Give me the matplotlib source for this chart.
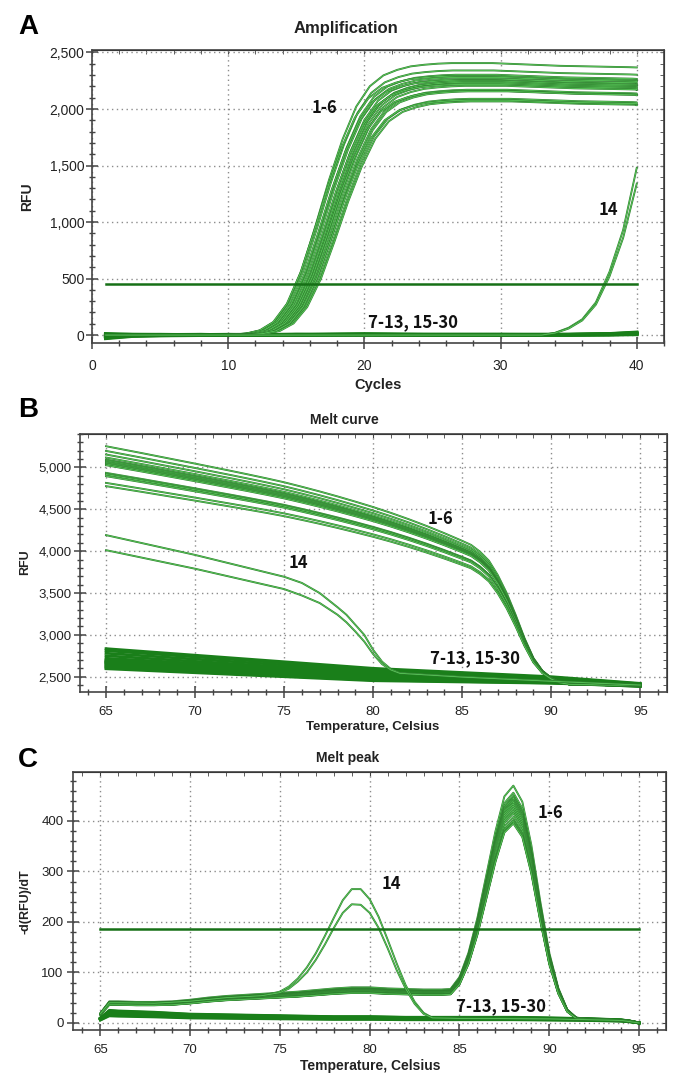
import numpy as np
import matplotlib.pyplot as plt
from matplotlib.ticker import MultipleLocator, FuncFormatter

# ---------------- panel A: amplification ----------------
cycles = list(range(0, 42))          # 0 and 41 are padding for the shift
# normalised shape of a 1-6 curve (fraction of plateau) per cycle 0..41
amp_shape = [0, 0, 0, 0, 0, 0, 0, 0, 0, 0, 0,
             0.002, 0.006, 0.018, 0.05, 0.12, 0.24, 0.40, 0.57, 0.72, 0.84,
             0.915, 0.955, 0.975, 0.988, 0.994, 0.998, 1.0, 1.0, 1.0, 1.0,
             0.998, 0.996, 0.994, 0.992, 0.99, 0.989, 0.988, 0.987, 0.986, 0.985,
             0.984]
amp_plateau = [2406, 2341, 2303, 2290, 2280, 2265, 2253, 2245, 2235,
               2225, 2217, 2205, 2170, 2160, 2156, 2090, 2067, 2078]
amp_shift = [-0.6, -0.5, -0.3, -0.7, -0.2, 0.0, -0.4, 0.2, 0.1,
             0.3, -0.1, 0.4, 0.5, 0.2, 0.6, 0.7, 0.8, 0.5]

cyc40 = list(range(1, 41))
s14_amp = [[0] * 33 + [20, 65, 140, 290, 560, 930, 1480],
           [0] * 33 + [18, 58, 130, 270, 520, 860, 1340]]

neg_amp_cycles = [1, 2, 3, 5, 8, 10, 12, 15, 20, 25, 30, 35, 38, 40]
neg_amp = [[-25, -15, -8, -3, 0, 2, 5, 4, 8, 3, 2, 4, 8, 18],
           [-15, -10, -5, 0, 2, 0, 3, 6, 3, 5, 4, 2, 6, 12],
           [5, 3, 2, 4, 3, 5, 2, 3, 5, 2, 3, 5, 10, 22],
           [12, 8, 6, 5, 2, 3, 6, 2, 10, 6, 5, 3, 5, 8],
           [-30, -20, -10, -5, -2, -1, 2, 0, 2, 0, 1, 0, 2, 5],
           [0, -2, 0, 2, 4, 2, 1, 5, 4, 4, 6, 6, 12, 25],
           [-8, -5, -2, 1, 0, 4, 4, 2, 6, 2, 2, 3, 4, 10],
           [8, 6, 4, 3, 5, 1, 0, 4, 2, 3, 3, 4, 9, 15]]
amp_threshold = 453

# ---------------- panel B: melt curve ----------------
melt_temp = [65, 66, 67, 68, 69, 70, 71, 72, 73, 74, 75, 76, 77, 78, 79, 80,
             81, 82, 83, 84, 85, 85.5, 86, 86.5, 87, 87.5, 88, 88.5, 89, 89.5,
             90, 90.5, 91, 92, 93, 94, 95]
melt_ref = [5050, 5012, 4974, 4935, 4896, 4857, 4817, 4777, 4736, 4694, 4650,
            4600, 4548, 4493, 4435, 4375, 4310, 4240, 4165, 4085, 4000, 3955,
            3880, 3780, 3620, 3420, 3180, 2920, 2700, 2560, 2480, 2430, 2410,
            2405, 2400, 2398, 2395]
melt_base = 2400
melt_start = [5254, 5198, 5155, 5119, 5095, 5087, 5078, 5067, 5058,
              5048, 5040, 5027, 4936, 4925, 4916, 4896, 4816, 4777]

s14_melt_temp = [65, 70, 75, 76, 77, 78, 78.5, 79, 79.5, 80, 80.5, 81, 81.5,
                 85, 90, 95]
s14_melt = [[4192, 3955, 3694, 3620, 3499, 3330, 3240, 3120, 3000, 2820, 2680,
             2590, 2545, 2500, 2450, 2400],
            [4012, 3790, 3547, 3470, 3380, 3240, 3150, 3040, 2920, 2770, 2650,
             2580, 2540, 2495, 2445, 2400]]

neg_melt_temp = [65, 80, 90, 95]
neg_melt = [[2835, 2600, 2500, 2420], [2810, 2590, 2490, 2415],
            [2780, 2570, 2480, 2410], [2750, 2550, 2470, 2405],
            [2720, 2540, 2465, 2400], [2700, 2530, 2460, 2400],
            [2690, 2520, 2455, 2398], [2680, 2510, 2450, 2395],
            [2665, 2500, 2445, 2395], [2655, 2495, 2440, 2392],
            [2640, 2485, 2435, 2390], [2630, 2480, 2432, 2390],
            [2620, 2470, 2428, 2388], [2605, 2460, 2425, 2385],
            [2595, 2452, 2422, 2385], [2670, 2505, 2448, 2396]]

# ---------------- panel C: melt peak ----------------
peak_temp = [65, 65.5, 66, 67, 68, 69, 70, 71, 72, 73, 74, 75, 76, 77, 78, 79,
             80, 81, 82, 83, 84, 84.5, 85, 85.5, 86, 86.5, 87, 87.5, 88, 88.5,
             89, 89.5, 90, 90.5, 91, 91.5, 92, 93, 94, 94.5, 95]
peak_ref = [18, 40, 40, 39, 39, 40, 43, 47, 50, 52, 54, 56, 58, 61, 64, 66,
            66, 64, 63, 62, 62, 63, 85, 130, 195, 275, 355, 420, 440, 410,
            330, 225, 130, 65, 25, 10, 8, 7, 5, 4, 0]
peak_height = [470, 456, 450, 447, 445, 442, 440, 437, 434,
               430, 425, 420, 415, 408, 402, 400, 397, 395]

s14_peak_temp = [65, 65.5, 66, 68, 70, 72, 74, 75, 75.5, 76, 76.5, 77, 77.5,
                 78, 78.5, 79, 79.5, 80, 80.5, 81, 81.5, 82, 82.5, 83, 83.5,
                 85, 90, 94, 95]
s14_peak = [[18, 40, 40, 39, 43, 50, 54, 62, 72, 88, 110, 138, 172, 208, 243,
             265, 265, 245, 210, 165, 118, 75, 42, 20, 10, 9, 8, 5, 0],
            [18, 40, 40, 39, 43, 50, 54, 60, 68, 82, 100, 125, 155, 188, 218,
             235, 234, 218, 188, 148, 105, 68, 38, 18, 10, 9, 8, 5, 0]]

neg_peak_temp = [65, 65.5, 66, 68, 70, 72, 74, 76, 78, 80, 82, 84, 86, 88, 90,
                 92, 94, 94.5, 95]
neg_peak_ref = [8, 20, 19, 17, 14, 13, 12, 11, 10, 10, 9, 9, 9, 9, 8, 7, 5, 3, 0]
neg_peak_factor = [0.7, 0.78, 0.85, 0.9, 0.95, 1.0, 1.05, 1.1, 1.15, 1.2, 1.25]
peak_threshold = 187

# ---------------- style ----------------
DARK = '#2c7d2c'
LIGHT = '#5fcf5f'
BAND = '#1a7f1a'
THR = '#167016'
GRID = '#8c8c8c'
TXT = '#222222'
W, H = 684, 1090
TICKFONT = ['Liberation Sans', 'DejaVu Sans']
LABFONT = ['Noto Sans CJK KR', 'DejaVu Sans']
HEAD = ['Liberation Sans', 'DejaVu Sans']

fig = plt.figure(figsize=(W / 100, H / 100), dpi=100)


def axes_px(left, top, right, bottom):
    return fig.add_axes([left / W, 1 - bottom / H, (right - left) / W, (bottom - top) / H])


def ftext(x, y, s, **kw):
    fig.text(x / W, 1 - y / H, s, ha='center', va='center', color=kw.pop('color', TXT), **kw)


def curve(ax, x, y):
    ax.plot(x, y, color=DARK, lw=1.35)
    ax.plot(x, y, color=LIGHT, lw=0.55)


def label(ax, x, y, s):
    ax.text(x, y, s, fontsize=12, fontweight='bold', family=LABFONT,
            ha='center', va='center', color='#111111')


def style(ax, xmaj, xmin, ymaj, ymin, fmt, fs, xpad, ypad):
    ax.xaxis.set_major_locator(MultipleLocator(xmaj))
    ax.xaxis.set_minor_locator(MultipleLocator(xmin))
    ax.yaxis.set_major_locator(MultipleLocator(ymaj))
    ax.yaxis.set_minor_locator(MultipleLocator(ymin))
    ax.yaxis.set_major_formatter(FuncFormatter(fmt))
    ax.grid(True, which='major', linestyle=(0, (1, 2.5)), color=GRID, lw=1)
    ax.set_axisbelow(True)
    for sp in ax.spines.values():
        sp.set_color('#444444')
        sp.set_linewidth(1.2)
    ax.tick_params(which='major', direction='inout', length=9, width=1.1, color='#444444')
    ax.tick_params(which='minor', direction='inout', length=5, width=1.0, color='#444444')
    ax.tick_params(axis='x', which='major', pad=xpad, labelsize=fs, labelcolor=TXT)
    ax.tick_params(axis='y', which='major', pad=ypad, labelsize=fs, labelcolor=TXT)
    for lab in ax.get_xticklabels() + ax.get_yticklabels():
        lab.set_family(TICKFONT)
    top = ax.secondary_xaxis('top')
    top.xaxis.set_major_locator(MultipleLocator(xmaj))
    top.xaxis.set_minor_locator(MultipleLocator(xmin))
    top.tick_params(which='both', direction='in', length=3, labeltop=False, color='#444444')
    right = ax.secondary_yaxis('right')
    right.yaxis.set_major_locator(MultipleLocator(ymaj))
    right.yaxis.set_minor_locator(MultipleLocator(ymin))
    right.tick_params(which='both', direction='in', length=3, labelright=False, color='#444444')


comma = lambda v, p: f'{v:,.0f}'
plain = lambda v, p: f'{v:.0f}'

# ---- A ----
axA = axes_px(92, 50, 664, 343)
x_pad = np.array(cycles, dtype=float)
for row in neg_amp:
    axA.plot(neg_amp_cycles, row, color=BAND, lw=2.4)
for plat, sh in zip(amp_plateau, amp_shift):
    xs = np.clip(x_pad + sh, 1, 40)
    curve(axA, xs, plat * np.array(amp_shape))
for row in s14_amp:
    curve(axA, cyc40, row)
axA.plot([1, 40], [amp_threshold, amp_threshold], color=THR, lw=1.8)
axA.set_xlim(0, 42)
axA.set_ylim(-70, 2522)
style(axA, 10, 2, 500, 100, comma, 10, 7, 1)
label(axA, 17.1, 2010, '1-6')
label(axA, 37.9, 1107, '14')
label(axA, 23.6, 116, '7-13, 15-30')

# ---- B ----
axB = axes_px(80, 434, 667, 692)
ref = np.array(melt_ref, dtype=float)
for row in neg_melt:
    axB.plot(neg_melt_temp, row, color=BAND, lw=2.0)
for st in melt_start:
    s = (st - melt_base) / (melt_ref[0] - melt_base)
    curve(axB, melt_temp, melt_base + (ref - melt_base) * s)
for row in s14_melt:
    curve(axB, s14_melt_temp, row)
axB.set_xlim(63.54, 96.5)
axB.set_ylim(2317, 5400)
style(axB, 5, 1, 500, 100, comma, 9.5, 5.5, 1.5)
label(axB, 83.8, 4383, '1-6')
label(axB, 75.8, 3857, '14')
label(axB, 85.7, 2723, '7-13, 15-30')

# ---- C ----
axC = axes_px(72.5, 772, 666, 1030)
pref = np.array(peak_ref, dtype=float)
nref = np.array(neg_peak_ref, dtype=float)
for f in neg_peak_factor:
    axC.plot(neg_peak_temp, nref * f, color=BAND, lw=2.0)
for h in peak_height:
    curve(axC, peak_temp, pref * h / max(peak_ref))
for row in s14_peak:
    curve(axC, s14_peak_temp, row)
axC.plot([65, 95], [peak_threshold, peak_threshold], color=THR, lw=1.8)
axC.set_xlim(63.45, 96.5)
axC.set_ylim(-14, 497)
style(axC, 5, 1, 100, 20, plain, 9.5, 5.5, 2)
label(axC, 90.05, 416, '1-6')
label(axC, 81.2, 276, '14')
label(axC, 87.3, 33, '7-13, 15-30')

# ---- figure texts ----
ftext(28, 27, 'A', fontsize=20, fontweight='bold', family=HEAD, color='black')
ftext(28, 410, 'B', fontsize=20, fontweight='bold', family=HEAD, color='black')
ftext(28, 760, 'C', fontsize=20, fontweight='bold', family=HEAD, color='black')
ftext(346, 28, 'Amplification', fontsize=12, fontweight='bold', family=HEAD)
ftext(344, 420, 'Melt curve', fontsize=10, fontweight='bold', family=HEAD)
ftext(348, 758, 'Melt peak', fontsize=10, fontweight='bold', family=HEAD)
ftext(378, 385, 'Cycles', fontsize=10.5, fontweight='bold', family=HEAD)
ftext(373, 727, 'Temperature, Celsius', fontsize=9.5, fontweight='bold', family=HEAD)
ftext(370, 1066, 'Temperature, Celsius', fontsize=10, fontweight='bold', family=HEAD)
ftext(27, 197, 'RFU', fontsize=10, fontweight='bold', family=HEAD, rotation=90)
ftext(25, 562, 'RFU', fontsize=9, fontweight='bold', family=HEAD, rotation=90)
ftext(25, 902, '-d(RFU)/dT', fontsize=9, fontweight='bold', family=HEAD, rotation=90)

fig.savefig('out.png', dpi=100)
